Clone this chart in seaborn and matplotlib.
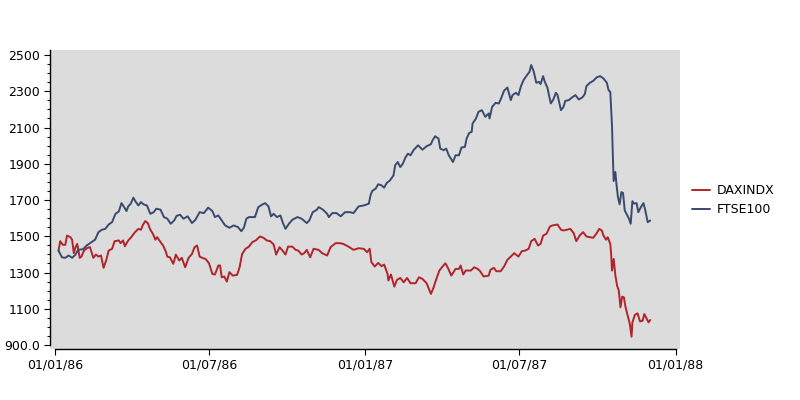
import pandas as pd
import seaborn as sns
import matplotlib.pyplot as plt
import matplotlib.dates as mdates
from matplotlib.ticker import MultipleLocator, FixedLocator, FuncFormatter

# values
ftse_dates = [
    "1986-01-05", "1986-01-09", "1986-01-13", "1986-01-17", "1986-01-21", "1986-01-25", "1986-01-28",
    "1986-02-03", "1986-02-07", "1986-02-11", "1986-02-17", "1986-02-21", "1986-02-25", "1986-03-01",
    "1986-03-05", "1986-03-09", "1986-03-13", "1986-03-17", "1986-03-20", "1986-03-22", "1986-03-26",
    "1986-03-28", "1986-03-31", "1986-04-03", "1986-04-06", "1986-04-09", "1986-04-12", "1986-04-15",
    "1986-04-19", "1986-04-23", "1986-04-27", "1986-04-30", "1986-05-05", "1986-05-09", "1986-05-13",
    "1986-05-17", "1986-05-21", "1986-05-24", "1986-05-28", "1986-06-01", "1986-06-06", "1986-06-11",
    "1986-06-15", "1986-06-20", "1986-06-25", "1986-06-30", "1986-07-05", "1986-07-08", "1986-07-12",
    "1986-07-16", "1986-07-20", "1986-07-25", "1986-07-30", "1986-08-04", "1986-08-08", "1986-08-11",
    "1986-08-14", "1986-08-17", "1986-08-24", "1986-08-28", "1986-09-02", "1986-09-05", "1986-09-09",
    "1986-09-12", "1986-09-15", "1986-09-19", "1986-09-23", "1986-09-26", "1986-09-29", "1986-10-03",
    "1986-10-07", "1986-10-13", "1986-10-18", "1986-10-24", "1986-10-27", "1986-10-31", "1986-11-05",
    "1986-11-07", "1986-11-12", "1986-11-17", "1986-11-19", "1986-11-23", "1986-11-28", "1986-12-03",
    "1986-12-08", "1986-12-14", "1986-12-18", "1986-12-24", "1986-12-30", "1987-01-05", "1987-01-07",
    "1987-01-09", "1987-01-13", "1987-01-16", "1987-01-20", "1987-01-23", "1987-01-26", "1987-01-30",
    "1987-02-03", "1987-02-05", "1987-02-08", "1987-02-11", "1987-02-14", "1987-02-17", "1987-02-20",
    "1987-02-23", "1987-02-27", "1987-03-04", "1987-03-09", "1987-03-14", "1987-03-19", "1987-03-21",
    "1987-03-24", "1987-03-28", "1987-03-30", "1987-04-03", "1987-04-06", "1987-04-09", "1987-04-14",
    "1987-04-17", "1987-04-21", "1987-04-24", "1987-04-28", "1987-04-30", "1987-05-03", "1987-05-06",
    "1987-05-07", "1987-05-11", "1987-05-14", "1987-05-18", "1987-05-22", "1987-05-26", "1987-05-27",
    "1987-05-30", "1987-06-03", "1987-06-07", "1987-06-10", "1987-06-13", "1987-06-17", "1987-06-21",
    "1987-06-23", "1987-06-27", "1987-06-30", "1987-07-03", "1987-07-06", "1987-07-10", "1987-07-13",
    "1987-07-15", "1987-07-18", "1987-07-21", "1987-07-24", "1987-07-26", "1987-07-29", "1987-07-31",
    "1987-08-03", "1987-08-07", "1987-08-10", "1987-08-13", "1987-08-15", "1987-08-19", "1987-08-22",
    "1987-08-24", "1987-08-28", "1987-09-01", "1987-09-05", "1987-09-09", "1987-09-13", "1987-09-16",
    "1987-09-18", "1987-09-22", "1987-09-26", "1987-09-30", "1987-10-04", "1987-10-08", "1987-10-12",
    "1987-10-14", "1987-10-16", "1987-10-17", "1987-10-18", "1987-10-19", "1987-10-20", "1987-10-22",
    "1987-10-23", "1987-10-25", "1987-10-27", "1987-10-29", "1987-10-31", "1987-11-02", "1987-11-04",
    "1987-11-07", "1987-11-09", "1987-11-11", "1987-11-13", "1987-11-16", "1987-11-18", "1987-11-21",
    "1987-11-24", "1987-11-26", "1987-11-29", "1987-12-02",
]
ftse_values = [
    1421, 1384, 1381, 1394, 1381, 1399, 1425,
    1429, 1449, 1462, 1481, 1523, 1536, 1541,
    1565, 1578, 1624, 1637, 1683, 1670, 1639,
    1665, 1680, 1713, 1689, 1670, 1689, 1676,
    1670, 1624, 1633, 1652, 1647, 1606, 1597,
    1569, 1587, 1613, 1619, 1597, 1610, 1573,
    1591, 1633, 1628, 1658, 1639, 1606, 1615,
    1587, 1560, 1547, 1560, 1551, 1528, 1547,
    1597, 1606, 1606, 1661, 1676, 1683, 1665,
    1610, 1624, 1606, 1615, 1573, 1541, 1569,
    1591, 1606, 1597, 1573, 1587, 1633, 1647,
    1661, 1647, 1624, 1606, 1628, 1628, 1610,
    1633, 1633, 1628, 1665, 1670, 1680, 1726,
    1750, 1763, 1787, 1781, 1768, 1794, 1809,
    1836, 1892, 1910, 1882, 1901, 1934, 1956,
    1947, 1978, 2002, 1978, 1997, 2008, 2030,
    2052, 2039, 1984, 1975, 1984, 1947, 1910,
    1947, 1947, 1990, 1993, 2039, 2070, 2076,
    2122, 2150, 2187, 2196, 2159, 2178, 2150,
    2214, 2236, 2233, 2266, 2303, 2321, 2251,
    2279, 2292, 2279, 2329, 2362, 2389, 2408,
    2445, 2408, 2347, 2352, 2340, 2384, 2352,
    2321, 2233, 2255, 2292, 2279, 2196, 2214,
    2247, 2251, 2266, 2279, 2255, 2266, 2284,
    2329, 2347, 2358, 2377, 2384, 2371, 2347,
    2306, 2297, 2205, 2113, 1947, 1805, 1855,
    1799, 1716, 1676, 1744, 1739, 1643, 1624,
    1597, 1569, 1694, 1680, 1683, 1633, 1661,
    1683, 1647, 1578, 1587,
]

dax_dates = [
    "1986-01-05", "1986-01-07", "1986-01-10", "1986-01-13", "1986-01-15", "1986-01-19", "1986-01-21",
    "1986-01-23", "1986-01-25", "1986-01-27", "1986-01-30", "1986-02-01", "1986-02-04", "1986-02-08",
    "1986-02-11", "1986-02-15", "1986-02-18", "1986-02-21", "1986-02-24", "1986-02-27", "1986-03-02",
    "1986-03-05", "1986-03-09", "1986-03-12", "1986-03-17", "1986-03-19", "1986-03-22", "1986-03-24",
    "1986-03-28", "1986-03-31", "1986-04-05", "1986-04-09", "1986-04-12", "1986-04-14", "1986-04-17",
    "1986-04-20", "1986-04-23", "1986-04-26", "1986-04-29", "1986-05-01", "1986-05-05", "1986-05-08",
    "1986-05-11", "1986-05-13", "1986-05-16", "1986-05-20", "1986-05-23", "1986-05-27", "1986-05-30",
    "1986-06-03", "1986-06-07", "1986-06-11", "1986-06-14", "1986-06-17", "1986-06-20", "1986-06-23",
    "1986-06-27", "1986-07-01", "1986-07-05", "1986-07-08", "1986-07-12", "1986-07-14", "1986-07-16",
    "1986-07-19", "1986-07-22", "1986-07-25", "1986-07-29", "1986-08-03", "1986-08-06", "1986-08-09",
    "1986-08-13", "1986-08-17", "1986-08-21", "1986-08-25", "1986-08-30", "1986-09-03", "1986-09-07",
    "1986-09-11", "1986-09-15", "1986-09-18", "1986-09-22", "1986-09-26", "1986-09-29", "1986-10-02",
    "1986-10-07", "1986-10-11", "1986-10-14", "1986-10-18", "1986-10-21", "1986-10-24", "1986-10-28",
    "1986-11-01", "1986-11-07", "1986-11-11", "1986-11-17", "1986-11-21", "1986-11-27", "1986-12-02",
    "1986-12-06", "1986-12-12", "1986-12-18", "1986-12-24", "1986-12-30", "1987-01-03", "1987-01-06",
    "1987-01-08", "1987-01-12", "1987-01-16", "1987-01-20", "1987-01-23", "1987-01-27", "1987-01-28",
    "1987-01-31", "1987-02-04", "1987-02-07", "1987-02-11", "1987-02-15", "1987-02-19", "1987-02-23",
    "1987-03-01", "1987-03-05", "1987-03-09", "1987-03-14", "1987-03-19", "1987-03-22", "1987-03-25",
    "1987-03-29", "1987-04-01", "1987-04-05", "1987-04-08", "1987-04-12", "1987-04-17", "1987-04-21",
    "1987-04-23", "1987-04-26", "1987-04-29", "1987-05-05", "1987-05-09", "1987-05-13", "1987-05-16",
    "1987-05-20", "1987-05-26", "1987-05-28", "1987-06-01", "1987-06-04", "1987-06-09", "1987-06-13",
    "1987-06-17", "1987-06-21", "1987-06-25", "1987-06-27", "1987-06-30", "1987-07-04", "1987-07-08",
    "1987-07-12", "1987-07-15", "1987-07-19", "1987-07-23", "1987-07-26", "1987-07-29", "1987-08-02",
    "1987-08-06", "1987-08-09", "1987-08-15", "1987-08-19", "1987-08-22", "1987-08-26", "1987-08-30",
    "1987-09-03", "1987-09-06", "1987-09-10", "1987-09-14", "1987-09-18", "1987-09-22", "1987-09-26",
    "1987-09-30", "1987-10-03", "1987-10-06", "1987-10-08", "1987-10-11", "1987-10-13", "1987-10-16",
    "1987-10-17", "1987-10-18", "1987-10-20", "1987-10-22", "1987-10-24", "1987-10-26", "1987-10-28",
    "1987-10-30", "1987-11-01", "1987-11-03", "1987-11-06", "1987-11-08", "1987-11-10", "1987-11-11",
    "1987-11-14", "1987-11-17", "1987-11-20", "1987-11-23", "1987-11-25", "1987-11-28", "1987-11-30",
    "1987-12-02",
]
dax_values = [
    1421, 1473, 1453, 1453, 1504, 1495, 1481,
    1407, 1440, 1458, 1381, 1388, 1421, 1436,
    1440, 1381, 1399, 1388, 1394, 1326, 1366,
    1421, 1431, 1473, 1477, 1462, 1477, 1445,
    1477, 1492, 1523, 1541, 1536, 1560, 1584,
    1573, 1536, 1514, 1481, 1495, 1468, 1449,
    1418, 1388, 1384, 1348, 1399, 1366, 1381,
    1329, 1381, 1403, 1440, 1449, 1388, 1381,
    1375, 1351, 1292, 1289, 1339, 1339, 1274,
    1278, 1250, 1302, 1283, 1287, 1329, 1403,
    1431, 1443, 1468, 1477, 1499, 1492, 1477,
    1473, 1455, 1399, 1440, 1418, 1399, 1443,
    1443, 1425, 1421, 1399, 1407, 1425, 1384,
    1431, 1425, 1407, 1394, 1440, 1462, 1462,
    1458, 1443, 1425, 1434, 1431, 1412, 1431,
    1357, 1333, 1353, 1335, 1344, 1292, 1256,
    1289, 1222, 1259, 1270, 1246, 1270, 1241,
    1241, 1274, 1265, 1241, 1182, 1215, 1259,
    1311, 1329, 1351, 1326, 1283, 1320, 1320,
    1339, 1289, 1311, 1311, 1329, 1320, 1307,
    1278, 1283, 1315, 1326, 1307, 1307, 1333,
    1370, 1388, 1407, 1399, 1388, 1418, 1421,
    1431, 1473, 1486, 1449, 1458, 1504, 1514,
    1554, 1560, 1565, 1536, 1532, 1536, 1541,
    1517, 1473, 1504, 1523, 1499, 1495, 1492,
    1517, 1541, 1532, 1504, 1481, 1495, 1458,
    1403, 1311, 1375, 1283, 1228, 1200, 1108,
    1167, 1163, 1108, 1053, 1016, 946, 1025,
    1067, 1075, 1030, 1034, 1071, 1044, 1025,
    1038,
]

series_names = ["DAXINDX", "FTSE100"]
series_colors = ["#b2232a", "#3a4a6e"]
x_ticks = ["1986-01-01", "1986-07-01", "1987-01-01", "1987-07-01", "1988-01-01"]
y_ticks = [900, 1100, 1300, 1500, 1700, 1900, 2100, 2300, 2500]

df = pd.concat([
    pd.DataFrame({"date": pd.to_datetime(dax_dates), "value": dax_values, "series": series_names[0]}),
    pd.DataFrame({"date": pd.to_datetime(ftse_dates), "value": ftse_values, "series": series_names[1]}),
])

sns.set_style("ticks")
plt.rcParams["font.family"] = ["DejaVu Sans"]
plt.rcParams["text.color"] = "black"
plt.rcParams["xtick.color"] = "black"
plt.rcParams["ytick.color"] = "black"

fig = plt.figure(figsize=(8, 4), dpi=100)
ax = fig.add_axes([0.0625, 0.1275, 0.7875, 0.7475])
ax.set_facecolor("#dcdcdc")

sns.lineplot(data=df, x="date", y="value", hue="series", hue_order=series_names,
             palette=dict(zip(series_names, series_colors)), estimator=None,
             linewidth=1.4, ax=ax)

ax.set_xlim(pd.Timestamp("1985-12-26"), pd.Timestamp("1988-01-06"))
ax.set_ylim(878, 2528)
ax.set_xlabel("")
ax.set_ylabel("")

ax.xaxis.set_major_locator(FixedLocator(mdates.date2num(pd.to_datetime(x_ticks))))
ax.xaxis.set_major_formatter(mdates.DateFormatter("%d/%m/%y"))
ax.yaxis.set_major_locator(FixedLocator(y_ticks))
ax.yaxis.set_minor_locator(MultipleLocator(50))
ax.yaxis.set_major_formatter(FuncFormatter(lambda v, p: "900.0" if v == 900 else "%d" % v))
ax.tick_params(axis="both", which="major", length=4, width=0.8, labelsize=9,
               color="black", labelcolor="black", pad=3)
ax.tick_params(axis="y", which="minor", length=2.5, width=0.8, color="black")
ax.tick_params(axis="x", which="minor", length=0)

for side in ["top", "right"]:
    ax.spines[side].set_visible(False)
ax.spines["left"].set_bounds(900, 2528)
ax.spines["bottom"].set_bounds(mdates.date2num(pd.Timestamp("1986-01-01")),
                               mdates.date2num(pd.Timestamp("1988-01-01")))
for side in ["left", "bottom"]:
    ax.spines[side].set_linewidth(1.0)
    ax.spines[side].set_color("black")

handles, labels = ax.get_legend_handles_labels()
ax.get_legend().remove()
leg = fig.legend(handles, labels, loc="center left", bbox_to_anchor=(692 / 800, 0.5),
                 frameon=False, fontsize=9, handlelength=1.4, handletextpad=0.6,
                 labelspacing=0.5, borderpad=0, borderaxespad=0)
for t in leg.get_texts():
    t.set_color("black")

fig.savefig("out.png", dpi=100)
